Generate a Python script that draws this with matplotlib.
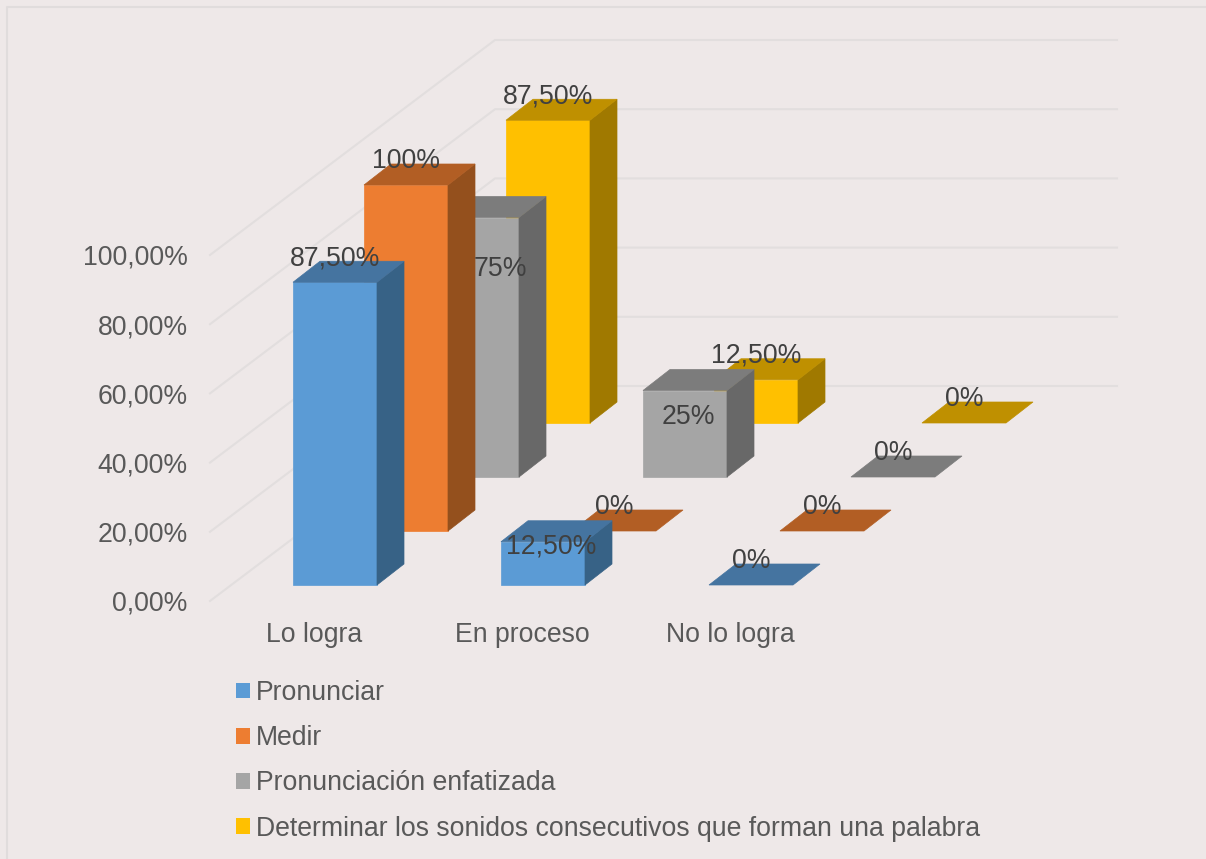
import matplotlib
matplotlib.use('Agg')
import matplotlib.pyplot as plt
from matplotlib.patches import Polygon, Patch

categories = ['Lo logra', 'En proceso', 'No lo logra']
series_names = ['Pronunciar', 'Medir', 'Pronunciación enfatizada',
                'Determinar los sonidos consecutivos que forman una palabra']
pronunciar = [87.5, 12.5, 0]
medir = [100, 0, 0]
enfatizada = [75, 25, 0]
determinar = [87.5, 12.5, 0]
label_pronunciar = ['87,50%', '12,50%', '0%']
label_medir = ['100%', '0%', '0%']
label_enfatizada = ['75%', '25%', '0%']
label_determinar = ['87,50%', '12,50%', '0%']
yticks = [0, 20, 40, 60, 80, 100]
ytick_labels = ['0,00%', '20,00%', '40,00%', '60,00%', '80,00%', '100,00%']

values = [pronunciar, medir, enfatizada, determinar]
labels = [label_pronunciar, label_medir, label_enfatizada, label_determinar]
front = ['#5B9BD5', '#ED7D31', '#A5A5A5', '#FFC000']
top = ['#4574A0', '#B25E24', '#7C7C7C', '#BF9000']
side = ['#376286', '#94501D', '#686868', '#A07900']

BG = '#EEE8E8'
GRID = '#E2DEDE'

# one category is 208 px, 100 % is 346 px
PX_X = 1 / 208
PX_Y = 100 / 346
BAR_W = 84 * PX_X
BAR_X0 = -21 * PX_X
BASE0 = 16 * PX_Y
STEP_X = 71 * PX_X
STEP_Y = 54 * PX_Y
DEPTH_X = 27 * PX_X
DEPTH_Y = 21 * PX_Y
FS = 19.2

fig = plt.figure(figsize=(12.06, 8.59), dpi=100, facecolor=BG)
plt.rcParams['font.family'] = ['Liberation Sans', 'DejaVu Sans']
ax = fig.add_axes([210 / 1206, (859 - 601) / 859, 624 / 1206, 346 / 859])
ax.set_facecolor('none')
ax.set_xlim(-0.5, 2.5)
ax.set_ylim(0, 100)
for s in ax.spines.values():
    s.set_visible(False)

ax.set_xticks(range(3))
ax.set_xticklabels(categories)
ax.set_yticks(yticks)
ax.set_yticklabels(ytick_labels)
ax.tick_params(length=0, labelsize=FS, labelcolor='#595959')
ax.tick_params(axis='x', pad=15)
ax.tick_params(axis='y', pad=16)

# walls
wall_x = -0.5 + 285 * PX_X
wall_end = -0.5 + 907 * PX_X
wall_rise = 215 * PX_Y
for v in yticks:
    ax.plot([-0.5, wall_x, wall_end], [v, v + wall_rise, v + wall_rise],
            color=GRID, lw=1.5, clip_on=False, zorder=1)


def poly(pts, color, z):
    ax.add_patch(Polygon(pts, closed=True, facecolor=color, edgecolor=color,
                         lw=0.5, clip_on=False, zorder=z))


# back series first so the front ones cover them
for s in [3, 2, 1, 0]:
    for c in [2, 1, 0]:
        v = values[s][c]
        x0 = c + BAR_X0 + s * STEP_X
        x1 = x0 + BAR_W
        y0 = BASE0 + s * STEP_Y
        y1 = y0 + v
        z = 10 + (3 - s) * 10 + (2 - c)
        if v > 0:
            poly([(x0, y0), (x1, y0), (x1, y1), (x0, y1)], front[s], z)
            poly([(x1, y0), (x1 + DEPTH_X, y0 + DEPTH_Y),
                  (x1 + DEPTH_X, y1 + DEPTH_Y), (x1, y1)], side[s], z)
        poly([(x0, y1), (x1, y1), (x1 + DEPTH_X, y1 + DEPTH_Y),
              (x0 + DEPTH_X, y1 + DEPTH_Y)], top[s], z)

# data labels sit above the bar, a few were moved by hand in the original
label_shift = {(2, 0): (23, -75), (2, 1): (3, -50), (0, 1): (8, -29)}
for s in range(4):
    for c in range(3):
        x = c + BAR_X0 + s * STEP_X + BAR_W / 2
        y = BASE0 + s * STEP_Y + values[s][c]
        sx, sy = label_shift.get((s, c), (0, 0))
        ax.annotate(labels[s][c], (x, y), xytext=(sx * 0.72, (24 + sy) * 0.72),
                    textcoords='offset points', ha='center', va='center',
                    fontsize=FS, color='#404040', annotation_clip=False, zorder=100)

handles = [Patch(facecolor=col, edgecolor='none', label=name)
           for col, name in zip(front, series_names)]
leg = fig.legend(handles=handles, loc='upper left',
                 bbox_to_anchor=(236 / 1206, 1 - 680 / 859), frameon=False,
                 fontsize=FS, labelcolor='#595959', handlelength=0.525,
                 handleheight=0.525, handletextpad=0.22, labelspacing=0.72,
                 borderpad=0, borderaxespad=0)

# thin frame of the chart area
fig.add_artist(plt.Line2D([7 / 1206, 7 / 1206, 1], [0, 1 - 7 / 859, 1 - 7 / 859],
                          color='#E0DCDC', lw=1.5, transform=fig.transFigure))

fig.savefig('out.png', dpi=100, facecolor=BG)
